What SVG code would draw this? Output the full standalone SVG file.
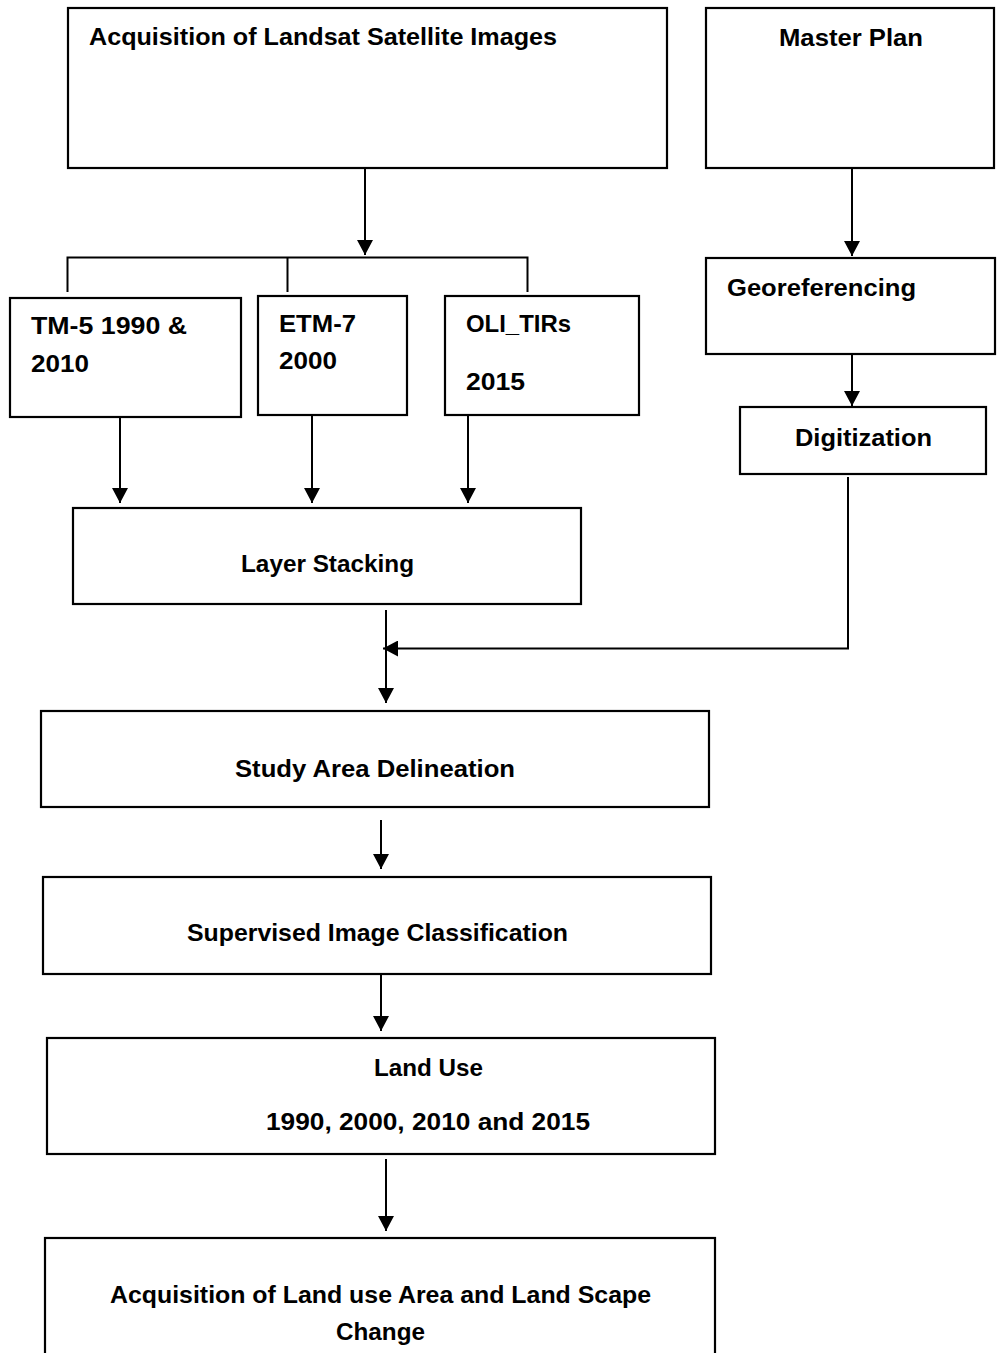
<svg xmlns="http://www.w3.org/2000/svg" width="997" height="1353" viewBox="0 0 997 1353">
<style>
.box{fill:#fff;stroke:#000;stroke-width:2.2}
.t{font-family:"Liberation Sans",Arial,sans-serif;font-weight:bold;font-size:24px;fill:#000}
.c{fill:none;stroke:#000;stroke-width:2}
</style>
<defs>
<marker id="ah" markerUnits="userSpaceOnUse" markerWidth="16" markerHeight="16" viewBox="0 0 16 16" refX="15" refY="8" orient="auto">
<path d="M0,0 L15,8 L0,16 Z" fill="#000"/>
</marker>
</defs>
<rect width="997" height="1353" fill="#fff"/>
<g id="connectors">
<path class="c" d="M365,169 V255" marker-end="url(#ah)"/>
<path class="c" d="M67.5,292 V257.5 H527.5 V292 M287.5,257.5 V292"/>
<path class="c" d="M852,169 V256" marker-end="url(#ah)"/>
<path class="c" d="M852,355 V406" marker-end="url(#ah)"/>
<path class="c" d="M120,412 V503" marker-end="url(#ah)"/>
<path class="c" d="M312,412 V503" marker-end="url(#ah)"/>
<path class="c" d="M468,412 V503" marker-end="url(#ah)"/>
<path class="c" d="M848,477 V648.5 H383" marker-end="url(#ah)"/>
<path class="c" d="M386,610 V703" marker-end="url(#ah)"/>
<path class="c" d="M381,820 V869" marker-end="url(#ah)"/>
<path class="c" d="M381,965 V1031" marker-end="url(#ah)"/>
<path class="c" d="M386,1159 V1231" marker-end="url(#ah)"/>
</g>
<g id="acq">
<rect class="box" x="68" y="8" width="599" height="160"/>
<text class="t" x="89" y="45" textLength="468" lengthAdjust="spacingAndGlyphs">Acquisition of Landsat Satellite Images</text>
</g>
<g id="master">
<rect class="box" x="706" y="8" width="288" height="160"/>
<text class="t" x="779" y="46" textLength="144" lengthAdjust="spacingAndGlyphs">Master Plan</text>
</g>
<g id="tm5">
<rect class="box" x="10" y="298" width="231" height="119"/>
<text class="t" x="31" y="334" textLength="156" lengthAdjust="spacingAndGlyphs">TM-5 1990 &amp;</text>
<text class="t" x="31" y="372" textLength="58" lengthAdjust="spacingAndGlyphs">2010</text>
</g>
<g id="etm7">
<rect class="box" x="258" y="296" width="149" height="119"/>
<text class="t" x="279" y="332" textLength="77" lengthAdjust="spacingAndGlyphs">ETM-7</text>
<text class="t" x="279" y="369" textLength="58" lengthAdjust="spacingAndGlyphs">2000</text>
</g>
<g id="oli">
<rect class="box" x="445" y="296" width="194" height="119"/>
<text class="t" x="466" y="332" textLength="105" lengthAdjust="spacingAndGlyphs">OLI_TIRs</text>
<text class="t" x="466" y="390" textLength="59" lengthAdjust="spacingAndGlyphs">2015</text>
</g>
<g id="georef">
<rect class="box" x="706" y="258" width="289" height="96"/>
<text class="t" x="727" y="296" textLength="189" lengthAdjust="spacingAndGlyphs">Georeferencing</text>
</g>
<g id="digit">
<rect class="box" x="740" y="407" width="246" height="67"/>
<text class="t" x="795" y="446" textLength="137" lengthAdjust="spacingAndGlyphs">Digitization</text>
</g>
<g id="layer">
<rect class="box" x="73" y="508" width="508" height="96"/>
<text class="t" x="241" y="572" textLength="173" lengthAdjust="spacingAndGlyphs">Layer Stacking</text>
</g>
<g id="study">
<rect class="box" x="41" y="711" width="668" height="96"/>
<text class="t" x="235" y="777" textLength="280" lengthAdjust="spacingAndGlyphs">Study Area Delineation</text>
</g>
<g id="supervised">
<rect class="box" x="43" y="877" width="668" height="97"/>
<text class="t" x="187" y="941" textLength="381" lengthAdjust="spacingAndGlyphs">Supervised Image Classification</text>
</g>
<g id="landuse">
<rect class="box" x="47" y="1038" width="668" height="116"/>
<text class="t" x="374" y="1076" textLength="109" lengthAdjust="spacingAndGlyphs">Land Use</text>
<text class="t" x="266" y="1130" textLength="324" lengthAdjust="spacingAndGlyphs">1990, 2000, 2010 and 2015</text>
</g>
<g id="final">
<rect class="box" x="45" y="1238" width="670" height="130"/>
<text class="t" x="110" y="1303" textLength="541" lengthAdjust="spacingAndGlyphs">Acquisition of Land use Area and Land Scape</text>
<text class="t" x="336" y="1340" textLength="89" lengthAdjust="spacingAndGlyphs">Change</text>
</g>
</svg>
